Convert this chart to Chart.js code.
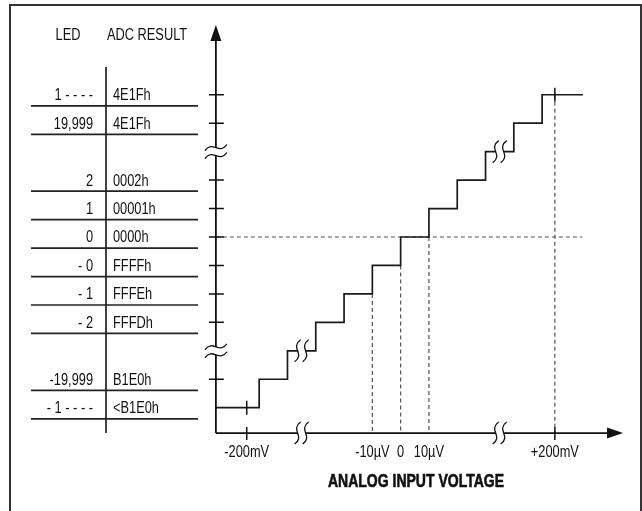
<!DOCTYPE html>
<html>
<head>
<meta charset="utf-8">
<script src="https://cdn.jsdelivr.net/npm/chart.js@4/dist/chart.umd.min.js"></script>
<style>
  html, body { margin: 0; padding: 0; background: #fff; }
  #wrap { width: 642px; height: 511px; position: relative; }
</style>
</head>
<body>
<div id="wrap"><canvas id="transferencia"></canvas></div>
<script>
// output code levels (LSB) and the input value (LSB) where each level starts
const codeLevels = [-6, -5, -4, -3, -2, -1, 0, 1, 2, 3, 4, 5];
const stepStart = [-6.53, -5, -4, -3, -2, -1, 0, 1, 2, 3, 4, 5];
const stepEnd = 6.44;

// table rows on the left
const rowLevels = [5, 4, 2, 1, 0, -1, -2, -3, -5, -6];
const ledLabels = ['1 - - - -', '19,999', '2', '1', '0', '- 0', '- 1', '- 2', '-19,999', '- 1 - - - -'];
const adcLabels = ['4E1Fh', '4E1Fh', '0002h', '00001h', '0000h', 'FFFFh', 'FFFEh', 'FFFDh', 'B1E0h', '<B1E0h'];

// axes
const yTickLevels = [5, 4, 2, 1, 0, -1, -2, -3, -5];
const xTickValues = [-5.44, -1, 0, 1, 5.45];
const xTickLabels = ['-200mV', '-10\u00b5V', '0', '10\u00b5V', '+200mV'];
const xAxisTicks = [-5.44, 5.45];
const dashX = [-1, 0, 1, 5.45];
const dashFrom = [-2, -1, 0, 5];
const breakLevels = [3, -4];
const breakX = [-3.5, 3.5];

const axisX = -6.53, axisY = -6.89, axisTop = 7.45, axisRight = 7.86;
const FONT = "'Liberation Sans', Arial, sans-serif";
const NARROW = 0.8; // squeeze to look like a narrow face

const stairs = stepStart.map((x, i) => ({ x: x, y: codeLevels[i] }));
stairs.push({ x: stepEnd, y: codeLevels[codeLevels.length - 1] });

const dashSets = dashX.map((x, i) => ({
    data: [{ x: x, y: dashFrom[i] }, { x: x, y: axisY }],
    showLine: true, borderColor: '#555', borderWidth: 1.2, borderDash: [4, 3], pointRadius: 0
}));

function narrowText(c, text, x, y, align, heavy) {
    c.save();
    c.translate(x, y);
    c.scale(NARROW, 1);
    c.textAlign = align;
    c.fillText(text, 0, 0);
    if (heavy) {
        c.lineWidth = 0.6;
        c.strokeStyle = c.fillStyle;
        c.strokeText(text, 0, 0);
    }
    c.restore();
}

function yBreak(c, x, y) {
    const w = 11, g = 4;
    c.beginPath();
    c.moveTo(x - w, y - g + 3);
    c.bezierCurveTo(x - 3, y - g - 8, x + 3, y - g + 8, x + w, y - g - 3);
    c.lineTo(x + w, y + g - 3);
    c.bezierCurveTo(x + 3, y + g + 8, x - 3, y + g - 8, x - w, y + g + 3);
    c.closePath();
    c.fillStyle = '#fff';
    c.fill();
    c.beginPath();
    c.moveTo(x - w, y - g + 3);
    c.bezierCurveTo(x - 3, y - g - 8, x + 3, y - g + 8, x + w, y - g - 3);
    c.moveTo(x - w, y + g + 3);
    c.bezierCurveTo(x - 3, y + g - 8, x + 3, y + g + 8, x + w, y + g - 3);
    c.stroke();
}

function xBreak(c, x, y) {
    const h = 11, g = 4;
    c.beginPath();
    c.moveTo(x - g + 3, y - h);
    c.bezierCurveTo(x - g - 8, y - 3, x - g + 8, y + 3, x - g - 3, y + h);
    c.lineTo(x + g - 3, y + h);
    c.bezierCurveTo(x + g + 8, y + 3, x + g - 8, y - 3, x + g + 3, y - h);
    c.closePath();
    c.fillStyle = '#fff';
    c.fill();
    c.beginPath();
    c.moveTo(x - g + 3, y - h);
    c.bezierCurveTo(x - g - 8, y - 3, x - g + 8, y + 3, x - g - 3, y + h);
    c.moveTo(x + g + 3, y - h);
    c.bezierCurveTo(x + g - 8, y - 3, x + g + 8, y + 3, x + g - 3, y + h);
    c.stroke();
}

const diagram = {
    id: 'diagram',
    afterDraw(chart) {
        const c = chart.ctx, xs = chart.scales.x, ys = chart.scales.y;
        const px = v => xs.getPixelForValue(v), py = v => ys.getPixelForValue(v);
        const ax = px(axisX), ay = py(axisY);
        c.save();

        // frame
        c.strokeStyle = '#333';
        c.lineWidth = 2;
        c.beginPath();
        c.moveTo(10, 515); c.lineTo(10, 5); c.lineTo(641, 5); c.lineTo(641, 515);
        c.stroke();

        // axes with arrows
        c.strokeStyle = '#111';
        c.fillStyle = '#111';
        c.lineWidth = 1.8;
        const top = py(axisTop), right = px(axisRight);
        c.beginPath();
        c.moveTo(ax, ay); c.lineTo(ax, top + 10);
        c.moveTo(ax, ay); c.lineTo(right - 10, ay);
        c.stroke();
        c.beginPath();
        c.moveTo(ax, top); c.lineTo(ax - 5.5, top + 16); c.lineTo(ax + 5.5, top + 16); c.closePath();
        c.moveTo(right, ay); c.lineTo(right - 16, ay - 5.5); c.lineTo(right - 16, ay + 5.5); c.closePath();
        c.fill();

        // ticks
        c.lineWidth = 1.5;
        c.beginPath();
        yTickLevels.forEach(v => { c.moveTo(ax - 7, py(v)); c.lineTo(ax + 8, py(v)); });
        xAxisTicks.forEach((v, i) => {
            c.moveTo(px(v), ay - 6); c.lineTo(px(v), ay + 7);
            const lv = i === 0 ? codeLevels[0] : codeLevels[codeLevels.length - 1];
            c.moveTo(px(v), py(lv) - 7); c.lineTo(px(v), py(lv) + 7);
        });
        c.stroke();

        // table
        c.strokeStyle = '#222';
        c.lineWidth = 1.7;
        c.beginPath();
        c.moveTo(106, 67); c.lineTo(106, ay);
        rowLevels.forEach(v => { const y = py(v - 0.39); c.moveTo(31, y); c.lineTo(198, y); });
        c.stroke();

        c.fillStyle = '#111';
        c.font = '16px ' + FONT;
        c.textBaseline = 'middle';
        narrowText(c, 'LED', 68, 36, 'center');
        narrowText(c, 'ADC RESULT', 107, 36, 'left');
        rowLevels.forEach((v, i) => {
            narrowText(c, ledLabels[i], 93, py(v) + 1, 'right');
            narrowText(c, adcLabels[i], 113, py(v) + 1, 'left');
        });

        // x tick labels and title
        xTickValues.forEach((v, i) => narrowText(c, xTickLabels[i], px(v), ay + 20, 'center'));
        c.font = 'bold 17.5px ' + FONT;
        narrowText(c, 'ANALOG INPUT VOLTAGE', 416, ay + 49, 'center', true);

        // break marks
        c.strokeStyle = '#111';
        c.lineWidth = 1.3;
        breakLevels.forEach(v => yBreak(c, ax, py(v)));
        breakX.forEach(v => xBreak(c, px(v), ay));
        breakX.forEach((v, i) => xBreak(c, px(v), py(breakLevels[1 - i])));
        c.restore();
    }
};

const ctx = document.getElementById('transferencia').getContext('2d');

new Chart(ctx, {
    type: 'scatter',
    data: {
        datasets: [
            {
                data: stairs, showLine: true, stepped: 'before',
                borderColor: '#1a1a1a', borderWidth: 1.7, pointRadius: 0
            },
            {
                data: [{ x: axisX, y: 0 }, { x: 6.42, y: 0 }],
                showLine: true, borderColor: '#555', borderWidth: 1.2, borderDash: [4, 3], pointRadius: 0
            },
            ...dashSets
        ]
    },
    options: {
        responsive: true,
        maintainAspectRatio: false,
        animation: false,
        layout: { padding: 0 },
        scales: {
            x: { type: 'linear', min: -14.16, max: 8.53, display: false },
            y: { type: 'linear', min: -9.63, max: 8.33, display: false }
        },
        plugins: {
            legend: { display: false },
            tooltip: { enabled: false }
        }
    },
    plugins: [diagram]
});
</script>
</body>
</html>
